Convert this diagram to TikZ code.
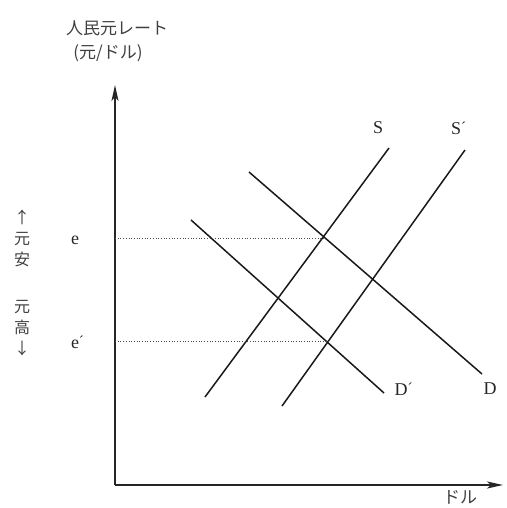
\documentclass[tikz,border=0pt]{standalone}
\usepackage{fontspec}
\setmainfont{Liberation Serif}
\newfontfamily\jpfont{Noto Sans CJK JP}
\usetikzlibrary{arrows.meta}
\newcommand{\primemark}{\rlap{\raisebox{0.12em}{\fontsize{15}{15}\selectfont ´}}}
\begin{document}
\begin{tikzpicture}[x=1pt,y=-1pt,
  axis/.style={line width=2pt,draw=black!85,-{Stealth[length=16pt,width=7pt,inset=4pt]}},
  curve/.style={line width=1.5pt,draw=black!90},
  guide/.style={line width=0.7pt,draw=black!70,dotted},
  lab/.style={font=\fontsize{18}{18}\selectfont,text=black!85,inner sep=0pt},
  jp/.style={font=\jpfont\fontsize{17}{19}\selectfont,text=black!75,inner sep=0pt,align=center}]
\useasboundingbox (0,0) rectangle (506,508);
% axes
\coordinate (O) at (115,485);
\coordinate (Ytop) at (115,85);
\coordinate (Xend) at (503,485);
\draw[axis] (O) -- (Ytop);
\draw[axis] (O) -- (Xend);
% supply and demand lines
\coordinate (S1) at (205,397); \coordinate (S2) at (389,148);
\coordinate (Sp1) at (282,406); \coordinate (Sp2) at (465,150);
\coordinate (Dp1) at (191,220); \coordinate (Dp2) at (384,393);
\coordinate (D1) at (249,172); \coordinate (D2) at (482,374);
\draw[curve] (S1) -- (S2);
\draw[curve] (Sp1) -- (Sp2);
\draw[curve] (Dp1) -- (Dp2);
\draw[curve] (D1) -- (D2);
% guides
\coordinate (eL) at (115,238); \coordinate (eR) at (323,238);
\coordinate (epL) at (115,341); \coordinate (epR) at (330,341);
\draw[guide] (eL) -- (eR);
\draw[guide] (epL) -- (epR);
% labels
\node[lab] (lS) at (378,128) {S};
\node[lab] (lSp) at (456,128) {S\primemark};
\node[lab] (le) at (75,240) {e};
\node[lab] (lep) at (75,342) {e\primemark};
\node[lab] (lDp) at (401,389) {D\primemark};
\node[lab] (lD) at (490,389) {D};
\node[jp] (title) at (117,28) {人民元レート};
\node[jp] (unit) at (108,53) {(元/ドル)};
\node[jp] (xlab) at (460,497) {ドル};
\node[jp,font=\jpfont\fontsize{16}{21}\selectfont] (up) at (22,238) {↑\\元\\安};
\node[jp,font=\jpfont\fontsize{16}{21}\selectfont] (down) at (22,328) {元\\高\\↓};
\end{tikzpicture}
\end{document}
